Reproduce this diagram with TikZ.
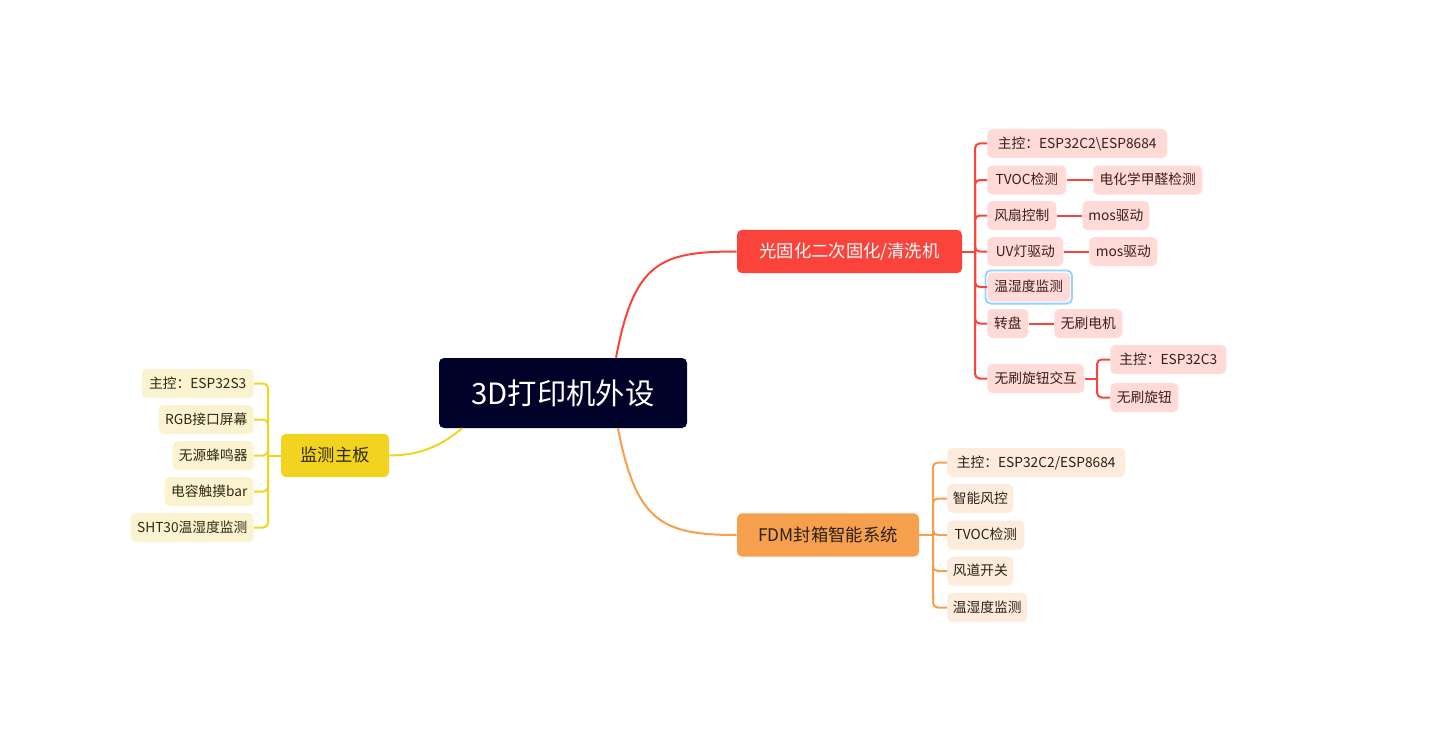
\documentclass[tikz,border=0pt]{standalone}
\usepackage{fontspec}
\setmainfont{Noto Sans CJK SC}
\usetikzlibrary{calc}
\definecolor{rootc}{HTML}{000229}
\definecolor{redc}{HTML}{F9433B}
\definecolor{redl}{HTML}{FFDAD7}
\definecolor{redt}{HTML}{3A1D1B}
\definecolor{orac}{HTML}{F6A04D}
\definecolor{oral}{HTML}{FDEBDB}
\definecolor{orat}{HTML}{2A2018}
\definecolor{yelc}{HTML}{F2D31F}
\definecolor{yell}{HTML}{FBF3CF}
\definecolor{yelt}{HTML}{2E2A12}
\definecolor{selb}{HTML}{8ED4FF}
\begin{document}
\begin{tikzpicture}[x=0.75pt,y=-0.75pt,
  base/.style={rounded corners=3.75pt, inner xsep=0pt, inner ysep=0pt, align=center},
  child/.style={base, minimum height=21.75pt, text height=8.6pt, text depth=1.4pt,
     font=\fontsize{10.3}{12}\selectfont},
  rchild/.style={child, fill=redl, text=redt, anchor=west},
  ochild/.style={child, fill=oral, text=orat, anchor=west},
  ychild/.style={child, fill=yell, text=yelt, anchor=east},
  mainb/.style={base, minimum height=32.5pt, text height=11pt, text depth=1.4pt,
     font=\fontsize{13}{15}\selectfont},
  rl/.style={draw=redc, line width=1.5pt, rounded corners=3.5pt},
  ol/.style={draw=orac, line width=1.5pt, rounded corners=3.5pt},
  yl/.style={draw=yelc, line width=1.5pt, rounded corners=3.5pt},
]
\useasboundingbox (0,0) rectangle (1429,742);

% root
\node[base, fill=rootc, text=white, minimum width=186pt, minimum height=52.5pt,
  text height=19pt, text depth=2.2pt, font=\fontsize{22}{26}\selectfont] (root) at (563,393) {3D打印机外设};

% main branches
\node[mainb, fill=redc, text=white, minimum width=168.75pt] (rm) at (849.5,251.5) {光固化二次固化/清洗机};
\node[mainb, fill=orac, text=orat, minimum width=136.5pt] (om) at (828,535) {FDM封箱智能系统};
\node[mainb, fill=yelc, text=yelt, minimum width=81pt] (ym) at (335,455.5) {监测主板};

% red children
\node[rchild, minimum width=135pt] (r1) at (987,143.5) {主控：ESP32C2\textbackslash ESP8684};
\node[rchild, minimum width=59.25pt] (r2) at (987,180) {TVOC检测};
\node[rchild, minimum width=81.75pt] (r2a) at (1093,180) {电化学甲醛检测};
\node[rchild, minimum width=51.75pt] (r3) at (987,215.5) {风扇控制};
\node[rchild, minimum width=50.25pt] (r3a) at (1082,215.5) {mos驱动};
\node[rchild, minimum width=57pt] (r4) at (987,251.5) {UV灯驱动};
\node[rchild, minimum width=51pt] (r4a) at (1089,251.5) {mos驱动};
\node[rchild, minimum width=62.25pt] (r5) at (987,287) {温湿度监测};
\node[rchild, minimum width=30.75pt] (r6) at (987,323.5) {转盘};
\node[rchild, minimum width=51pt] (r6a) at (1054,323.5) {无刷电机};
\node[rchild, minimum width=72.75pt] (r7) at (987,378.5) {无刷旋钮交互};
\node[rchild, minimum width=87pt] (r7a) at (1110,359.5) {主控：ESP32C3};
\node[rchild, minimum width=51pt] (r7b) at (1110,397.5) {无刷旋钮};
\draw[selb, line width=1.4pt, rounded corners=4pt]
  ($(r5.north west)+(-1.5,-1.8)$) rectangle ($(r5.south east)+(1.5,1.8)$);

% orange children
\node[ochild, minimum width=133.5pt] (o1) at (947,462.5) {主控：ESP32C2/ESP8684};
\node[ochild, minimum width=49.5pt] (o2) at (947,498.5) {智能风控};
\node[ochild, minimum width=57.75pt] (o3) at (947,535) {TVOC检测};
\node[ochild, minimum width=49.5pt] (o4) at (947,571) {风道开关};
\node[ochild, minimum width=60pt] (o5) at (947,607.5) {温湿度监测};

% yellow children
\node[ychild, minimum width=84pt] (y1) at (254,383.5) {主控：ESP32S3};
\node[ychild, minimum width=71.25pt] (y2) at (254,419.5) {RGB接口屏幕};
\node[ychild, minimum width=60.75pt] (y3) at (254,455.5) {无源蜂鸣器};
\node[ychild, minimum width=66.75pt] (y4) at (254,491.5) {电容触摸bar};
\node[ychild, minimum width=92.25pt] (y5) at (254,527.5) {SHT30温湿度监测};

% trunks
\coordinate (rt) at (975,251.5);
\coordinate (ot) at (933,535);
\coordinate (yt) at (268,455.5);
\coordinate (r7t) at (1097,378.5);

% root to main curves
\draw[redc, line width=1.5pt] ($(root.north)+(53,0)$) .. controls (634,262) and (660,251.5) .. (rm.west);
\draw[orac, line width=1.5pt] ($(root.south)+(55,0)$) .. controls (636,522) and (662,535) .. (om.west);
\draw[yelc, line width=1.5pt] ($(root.south)+(-101,0)$) .. controls (440,447) and (418,455.5) .. (ym.east);

% red connectors
\draw[rl] (rm.east) -- (rt);
\foreach \c in {r1,r2,r3,r4,r5,r6,r7} { \draw[rl] (rt) |- (\c.west); }
\draw[rl] (r2.east) -- (r2a.west);
\draw[rl] (r3.east) -- (r3a.west);
\draw[rl] (r4.east) -- (r4a.west);
\draw[rl] (r6.east) -- (r6a.west);
\draw[rl] (r7.east) -- (r7t);
\draw[rl] (r7t) |- (r7a.west);
\draw[rl] (r7t) |- (r7b.west);

% orange connectors
\draw[ol] (om.east) -- (ot);
\foreach \c in {o1,o2,o3,o4,o5} { \draw[ol] (ot) |- (\c.west); }

% yellow connectors
\draw[yl] (ym.west) -- (yt);
\foreach \c in {y1,y2,y3,y4,y5} { \draw[yl] (yt) |- (\c.east); }
\end{tikzpicture}
\end{document}
